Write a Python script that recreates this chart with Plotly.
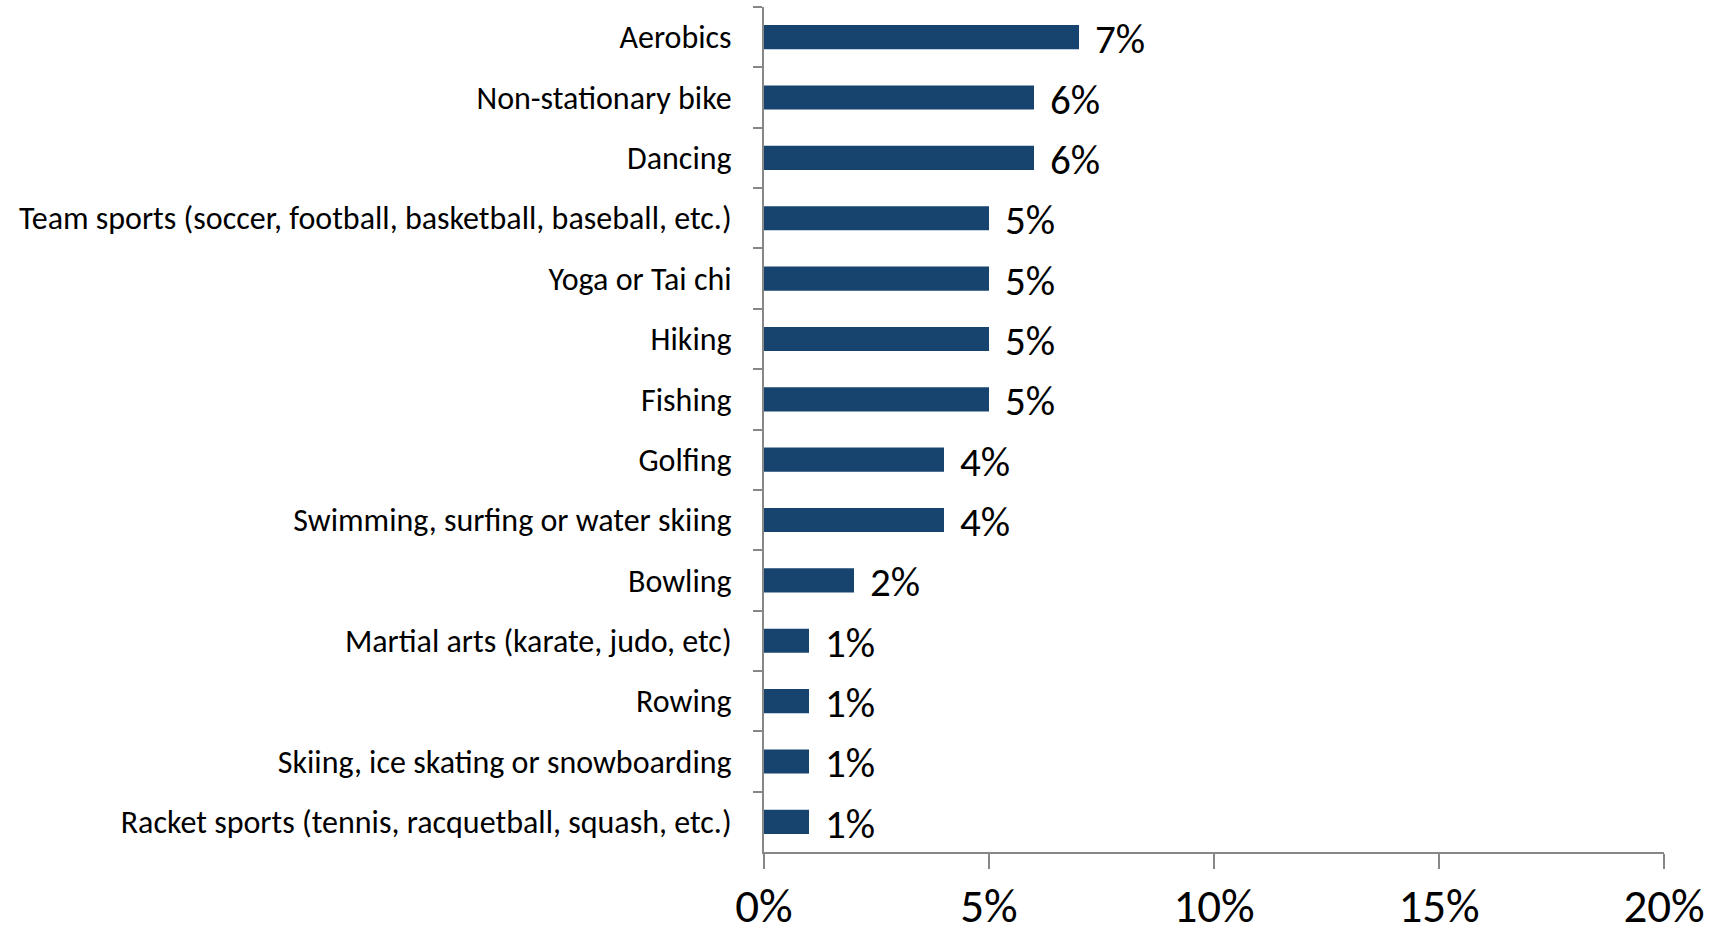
import plotly.graph_objects as go

# Share of respondents by activity (percent)
activities = [
    "Aerobics",
    "Non-stationary bike",
    "Dancing",
    "Team sports (soccer, football, basketball, baseball, etc.)",
    "Yoga or Tai chi",
    "Hiking",
    "Fishing",
    "Golfing",
    "Swimming, surfing or water skiing",
    "Bowling",
    "Martial arts (karate, judo, etc)",
    "Rowing",
    "Skiing, ice skating or snowboarding",
    "Racket sports (tennis, racquetball, squash, etc.)",
]
shares = [7, 6, 6, 5, 5, 5, 5, 4, 4, 2, 1, 1, 1, 1]

x_ticks = [0, 5, 10, 15, 20]
x_tick_labels = ["0%", "5%", "10%", "15%", "20%"]

BAR = "#17446F"
AXIS = "#878787"
FONT = "Carlito, Calibri, Lato, sans-serif"

fig = go.Figure(
    go.Bar(
        x=shares,
        y=activities,
        orientation="h",
        marker=dict(color=BAR, line=dict(width=0)),
        hoverinfo="skip",
    )
)

# value labels to the right of each bar
for act, val in zip(activities, shares):
    fig.add_annotation(
        x=val, y=act, xref="x", yref="y",
        text=f"{val}%", showarrow=False,
        xanchor="left", yanchor="middle",
        xshift=14, yshift=-2,
        font=dict(family=FONT, size=41, color="black"),
    )

fig.update_layout(
    width=1721,
    height=934,
    margin=dict(l=764, r=57, t=7, b=82, autoexpand=False),
    paper_bgcolor="white",
    plot_bgcolor="white",
    bargap=0.6,
    showlegend=False,
    font=dict(family=FONT, color="black"),
)

fig.update_xaxes(
    range=[0, 20],
    tickvals=x_ticks,
    ticktext=x_tick_labels,
    ticks="outside",
    ticklen=15,
    tickwidth=2,
    tickcolor=AXIS,
    showline=True,
    linecolor=AXIS,
    linewidth=2,
    showgrid=False,
    zeroline=False,
    automargin=False,
    tickfont=dict(family=FONT, size=47, color="black"),
    ticklabelstandoff=-3,
)

fig.update_yaxes(
    autorange="reversed",
    ticks="outside",
    tickson="boundaries",
    ticklen=9,
    tickwidth=2,
    tickcolor=AXIS,
    showline=True,
    linecolor=AXIS,
    linewidth=2,
    showgrid=False,
    zeroline=False,
    automargin=False,
    tickfont=dict(family=FONT, size=32, color="black"),
    ticklabelstandoff=24,
)

fig.write_html("out.html")
